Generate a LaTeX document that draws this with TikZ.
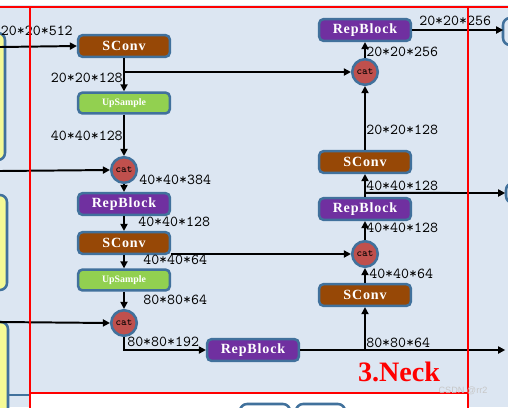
\documentclass[tikz,border=0pt]{standalone}
\usepackage{fontspec}
\setmainfont{Liberation Serif}
\setsansfont{Liberation Sans}
\newfontfamily\blockfont{Liberation Serif}[LetterSpace=6]
\usetikzlibrary{positioning, calc, arrows.meta}

\definecolor{bgblue}{RGB}{220,230,242}
\definecolor{edgeblue}{RGB}{65,113,156}
\definecolor{sconvbrown}{RGB}{151,72,6}
\definecolor{upgreen}{RGB}{146,208,80}
\definecolor{reppurple}{RGB}{112,48,160}
\definecolor{catred}{RGB}{192,80,77}
\definecolor{padyellow}{RGB}{245,250,150}

\tikzset{
  block/.style={rectangle, rounded corners=3pt, draw=edgeblue, line width=1.8pt, minimum width=2.29cm, minimum height=0.54cm, inner sep=0pt, text=white, font=\blockfont\bfseries\fontsize{10}{11}\selectfont},
  sconv/.style={block, fill=sconvbrown},
  repblock/.style={block, fill=reppurple},
  upsample/.style={block, fill=upgreen, minimum height=0.52cm, font=\rmfamily\bfseries\fontsize{7}{8}\selectfont},
  catnode/.style={circle, draw=edgeblue, line width=1.8pt, fill=catred, minimum size=0.64cm, inner sep=0pt, text=black, font=\ttfamily\fontsize{7.5}{8}\selectfont},
  dims/.style={inner sep=0pt, font=\ttfamily\fontsize{10.8}{11}\selectfont},
  arr/.style={-{Triangle[length=5pt,width=5pt]}, line width=1.4pt},
  pad/.style={rounded corners=5pt, draw=edgeblue, line width=1.8pt}
}

\begin{document}
\begin{tikzpicture}
    \useasboundingbox (0,0) rectangle (12.7,-10.175);
    \clip (0,0) rectangle (12.7,-10.175);

    % background
    \fill[bgblue] (0,0) rectangle (12.7,-10.175);
    \fill[white] (0,0) rectangle (12.7,-0.125);
    \fill[white] (0.75,-9.825) rectangle (11.7,-10.175);

    % cut-off blocks at the borders
    \draw[pad, fill=padyellow] (-1.5,-0.825) rectangle (0.125,-4.0);
    \draw[pad, fill=padyellow] (-1.5,-4.875) rectangle (0.175,-7.25);
    \draw[pad, fill=padyellow] (-1.5,-8.05) rectangle (0.2,-11);
    \draw[edgeblue, line width=1.8pt] (0.2,-9.875) -- (0.75,-9.875);
    \draw[pad, fill=bgblue] (12.575,-0.45) rectangle (13.5,-1.125);
    \draw[pad, fill=bgblue] (12.65,-4.575) rectangle (13.5,-5.075);
    \draw[pad, fill=white] (6.0,-10.1) rectangle (7.25,-10.6);
    \draw[pad, fill=white] (7.4,-10.1) rectangle (8.625,-10.6);

    % left column
    \node (SConvTop) at (3.1,-1.15) [sconv]{SConv};
    \node (UpSampleTop) at ($(SConvTop) + (0,-1.425)$) [upsample]{UpSample};
    \node (CatTop) at ($(UpSampleTop) + (0,-1.675)$) [catnode]{cat};
    \node (RepBlockLeft) at ($(CatTop) + (0,-0.85)$) [repblock]{RepBlock};
    \node (SConvMid) at ($(RepBlockLeft) + (0,-0.975)$) [sconv]{SConv};
    \node (UpSampleLow) at ($(SConvMid) + (0,-0.925)$) [upsample]{UpSample};
    \node (CatLow) at ($(UpSampleLow) + (0,-1.075)$) [catnode]{cat};
    \node (RepBlockLow) at ($(CatLow) + (3.225,-0.675)$) [repblock]{RepBlock};

    % right column
    \node (SConvLow) at ($(RepBlockLow) + (2.8,1.375)$) [sconv]{SConv};
    \node (CatMid) at ($(SConvLow) + (0,1.025)$) [catnode]{cat};
    \node (RepBlockMid) at ($(CatMid) + (0,1.125)$) [repblock]{RepBlock};
    \node (SConvUp) at ($(RepBlockMid) + (0,1.175)$) [sconv]{SConv};
    \node (CatUp) at ($(SConvUp) + (0,2.25)$) [catnode]{cat};
    \node (RepBlockTop) at ($(CatUp) + (0,1.05)$) [repblock]{RepBlock};

    % inputs and outputs
    \coordinate (InTop) at (0,-1.175);
    \coordinate (InMid) at (0,-4.275);
    \coordinate (InLow) at (0,-8.05);
    \coordinate (OutTop) at (12.58,-0.75);
    \coordinate (OutMid) at (12.63,-4.825);
    \coordinate (OutLow) at (12.63,-8.75);
    \coordinate (SplitTop) at (SConvTop.south |- CatUp.west);
    \coordinate (SplitMid) at (SConvMid.east |- CatMid.west);
    \coordinate (SplitLow) at (SConvLow.south |- RepBlockLow.east);
    \coordinate (SplitUp) at ($(RepBlockMid.north) + (0,0.1)$);

    \draw[arr] (InTop) -- (SConvTop.west);
    \draw[arr] (InMid) -- (CatTop.west);
    \draw[arr] (InLow) -- (CatLow.west);
    \draw[arr] (SConvTop.south) -- (UpSampleTop.north);
    \draw[arr] (SplitTop) -- (CatUp.west);
    \draw[arr] (UpSampleTop.south) -- (CatTop.north);
    \draw[arr] (CatTop.south) -- (RepBlockLeft.north);
    \draw[arr] (RepBlockLeft.south) -- (SConvMid.north);
    \draw[arr] (SConvMid.south) -- (UpSampleLow.north);
    \draw[arr] (SplitMid) -- (CatMid.west);
    \draw[arr] (UpSampleLow.south) -- (CatLow.north);
    \draw[arr] (CatLow.south) |- (RepBlockLow.west);
    \draw[arr] (RepBlockLow.east) -- (OutLow);
    \draw[arr] (SplitLow) -- (SConvLow.south);
    \draw[arr] (SConvLow.north) -- (CatMid.south);
    \draw[arr] (CatMid.north) -- (RepBlockMid.south);
    \draw[arr] (RepBlockMid.north) -- (SConvUp.south);
    \draw[arr] (SplitUp) -- (OutMid);
    \draw[arr] (SConvUp.north) -- (CatUp.south);
    \draw[arr] (CatUp.north) -- (RepBlockTop.south);
    \draw[arr] (RepBlockTop.east) -- (OutTop);

    % tensor sizes
    \node (DimIn) at (1.825,-0.775) [dims, anchor=east]{20*20*512};
    \node (DimA) at (3.075,-1.95) [dims, anchor=east]{20*20*128};
    \node (DimB) at (3.075,-3.4) [dims, anchor=east]{40*40*128};
    \node (DimC) at (3.475,-4.5) [dims, anchor=west]{40*40*384};
    \node (DimD) at (3.45,-5.55) [dims, anchor=west]{40*40*128};
    \node (DimE) at (3.575,-6.5) [dims, anchor=west]{40*40*64};
    \node (DimF) at (3.575,-7.5) [dims, anchor=west]{80*80*64};
    \node (DimG) at (3.175,-8.55) [dims, anchor=west]{80*80*192};
    \node (DimH) at (9.15,-8.575) [dims, anchor=west]{80*80*64};
    \node (DimI) at (9.225,-6.85) [dims, anchor=west]{40*40*64};
    \node (DimJ) at (9.15,-5.7) [dims, anchor=west]{40*40*128};
    \node (DimK) at (9.15,-4.65) [dims, anchor=west]{40*40*128};
    \node (DimL) at (9.15,-3.25) [dims, anchor=west]{20*20*128};
    \node (DimM) at (9.15,-1.3) [dims, anchor=west]{20*20*256};
    \node (DimOut) at (10.475,-0.525) [dims, anchor=west]{20*20*256};

    % red frame
    \draw[red, line width=1.8pt] (0,-0.175) -- (12.7,-0.175);
    \draw[red, line width=1.8pt] (0.75,-0.175) -- (0.75,-10.3);
    \draw[red, line width=1.8pt] (11.7,-0.175) -- (11.7,-10.3);
    \draw[red, line width=1.8pt] (0.75,-9.825) -- (11.7,-9.825);

    \node (NeckTitle) at (9.975,-9.3) [text=red, font=\bfseries\fontsize{20}{22}\selectfont, inner sep=0pt]{3.Neck};
    \node (Mark) at (11.575,-9.78) [text=black!22, font=\sffamily\fontsize{6.5}{7}\selectfont, inner sep=0pt]{CSDN @rr2};
\end{tikzpicture}
\end{document}
